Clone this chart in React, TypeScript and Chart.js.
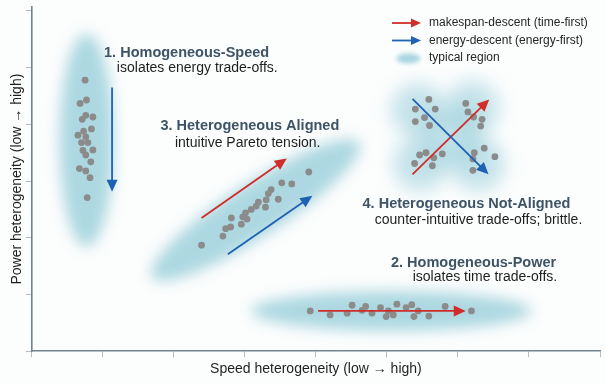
import React, { useEffect, useRef } from "react";
import { Chart, registerables } from "chart.js";

Chart.register(...registerables);

const FONT = "'Liberation Sans', 'DejaVu Sans', Arial, Helvetica, sans-serif";

// Axis ticks (unlabelled, concept axes)
const xTicks = [0, 1, 2, 3, 4, 5, 6, 7, 8];
const yTicks = [0, 1, 2, 3, 4, 5, 6];

// Scenario samples: [speed heterogeneity, power heterogeneity]
const homogeneousSpeed: [number, number][] = [
  [0.75, 4.78], [0.68, 4.37], [0.77, 4.43], [0.76, 4.16], [0.71, 4.09],
  [0.86, 4.13], [0.73, 3.88], [0.84, 3.92], [0.65, 3.81], [0.76, 3.78],
  [0.70, 3.68], [0.79, 3.68], [0.72, 3.54], [0.86, 3.55], [0.76, 3.46],
  [0.83, 3.34], [0.67, 3.22], [0.76, 3.18], [0.82, 3.06], [0.78, 2.71],
];

const homogeneousPower: [number, number][] = [
  [3.92, 0.71], [4.20, 0.64], [4.44, 0.67], [4.51, 0.81], [4.65, 0.72],
  [4.70, 0.79], [4.79, 0.67], [4.91, 0.77], [5.02, 0.71], [4.99, 0.61],
  [5.09, 0.64], [5.14, 0.83], [5.27, 0.77], [5.35, 0.82], [5.38, 0.61],
  [5.44, 0.71], [5.59, 0.62], [5.82, 0.79], [6.19, 0.71],
];

const heterogeneousAligned: [number, number][] = [
  [2.39, 1.87], [2.69, 2.03], [2.73, 2.16], [2.80, 2.19], [2.81, 2.35],
  [2.95, 2.24], [2.97, 2.37], [3.01, 2.44], [3.03, 2.33], [3.09, 2.50],
  [3.16, 2.56], [3.19, 2.63], [3.29, 2.54], [3.30, 2.67], [3.33, 2.78],
  [3.37, 2.85], [3.47, 2.68], [3.52, 2.97], [3.66, 2.95], [3.90, 3.16],
];

const heterogeneousNotAligned: [number, number][] = [
  [5.59, 4.44], [5.40, 4.27], [5.68, 4.27], [5.53, 4.12], [5.40, 4.05],
  [5.60, 3.98], [6.11, 4.37], [6.14, 4.22], [6.22, 4.13], [6.34, 4.09],
  [6.32, 3.97], [5.46, 3.46], [5.55, 3.50], [5.66, 3.41], [5.78, 3.48],
  [5.39, 3.31], [5.64, 3.27], [6.23, 3.50], [6.37, 3.58], [6.52, 3.43],
  [6.21, 3.39], [6.21, 3.19],
];

// Descent directions: [x from, y from, x to, y to]
const makespanDescent: [number, number, number, number][] = [
  [2.39, 2.35, 3.59, 3.40],
  [5.36, 3.12, 6.44, 4.44],
  [4.03, 0.71, 6.11, 0.71],
];
const energyDescent: [number, number, number, number][] = [
  [1.13, 4.65, 1.13, 2.81],
  [2.76, 1.71, 3.95, 2.74],
  [5.36, 4.45, 6.43, 3.12],
];

// Typical regions: [centre x, centre y, radius along x units, radius along y units, tilt in degrees]
const typicalRegions: [number, number, number, number, number][] = [
  [0.77, 3.72, 0.38, 1.88, 0],
  [3.15, 2.49, 1.74, 0.47, -33],
  [5.06, 0.71, 1.97, 0.35, 0],
];
// Four-lobed region of the not-aligned case
const notAlignedLobes: [number, number, number, number][] = [
  [5.44, 4.25, 0.38, 0.48],
  [6.20, 4.29, 0.38, 0.48],
  [5.47, 3.30, 0.38, 0.48],
  [6.28, 3.30, 0.38, 0.48],
  [5.89, 3.78, 0.44, 0.55],
];

const caseTitles = [
  "1. Homogeneous-Speed",
  "3. Heterogeneous Aligned",
  "4. Heterogeneous Not-Aligned",
  "2. Homogeneous-Power",
];
const caseNotes = [
  "isolates energy trade-offs.",
  "intuitive Pareto tension.",
  "counter-intuitive trade-offs; brittle.",
  "isolates time trade-offs.",
];
const legendLabels = [
  "makespan-descent (time-first)",
  "energy-descent (energy-first)",
  "typical region",
];
const xTitle = "Speed heterogeneity (low \u2192 high)";
const yTitle = "Power heterogeneity (low \u2192 high)";

// Label anchors in axis units (text centre)
const titleAnchors: [number, number][] = [
  [2.18, 5.25], [3.07, 3.97], [6.12, 2.59], [6.22, 1.56],
];
const noteAnchors: [number, number][] = [
  [2.33, 4.99], [3.04, 3.67], [6.29, 2.31], [6.38, 1.30],
];

const RED = "#cf2d29";
const BLUE = "#1f62b4";
const REGION = "rgba(152, 206, 218, 0.8)";

function drawArrow(
  ctx: CanvasRenderingContext2D,
  x1: number, y1: number, x2: number, y2: number,
  color: string, width: number, headLen: number, headHalf: number
) {
  const a = Math.atan2(y2 - y1, x2 - x1);
  const c = Math.cos(a), s = Math.sin(a);
  const bx = x2 - headLen * c, by = y2 - headLen * s;
  ctx.save();
  ctx.strokeStyle = color;
  ctx.fillStyle = color;
  ctx.lineWidth = width;
  ctx.lineCap = "butt";
  ctx.beginPath();
  ctx.moveTo(x1, y1);
  ctx.lineTo(bx + c, by + s);
  ctx.stroke();
  ctx.beginPath();
  ctx.moveTo(x2, y2);
  ctx.lineTo(bx - headHalf * s, by + headHalf * c);
  ctx.lineTo(bx + headHalf * s, by - headHalf * c);
  ctx.closePath();
  ctx.fill();
  ctx.restore();
}

const sketchPlugin = {
  id: "conceptSketch",
  beforeDraw(chart: any) {
    const ctx = chart.ctx as CanvasRenderingContext2D;
    ctx.save();
    ctx.fillStyle = "#fcfdfd";
    ctx.fillRect(0, 0, chart.width, chart.height);
    ctx.restore();
  },
  beforeDatasetsDraw(chart: any) {
    const ctx = chart.ctx as CanvasRenderingContext2D;
    const xs = chart.scales.x, ys = chart.scales.y;
    const ppx = Math.abs(xs.getPixelForValue(1) - xs.getPixelForValue(0));
    const ppy = Math.abs(ys.getPixelForValue(1) - ys.getPixelForValue(0));
    ctx.save();
    ctx.filter = "blur(7px)";
    ctx.fillStyle = REGION;
    for (const [cx, cy, rx, ry, tilt] of typicalRegions) {
      const px = xs.getPixelForValue(cx), py = ys.getPixelForValue(cy);
      ctx.beginPath();
      ctx.ellipse(px, py, rx * ppx, ry * ppy, (tilt * Math.PI) / 180, 0, Math.PI * 2);
      ctx.fill();
    }
    ctx.filter = "blur(9px)";
    ctx.fillStyle = "rgba(152, 206, 218, 0.55)";
    for (const [cx, cy, rx, ry] of notAlignedLobes) {
      const px = xs.getPixelForValue(cx), py = ys.getPixelForValue(cy);
      ctx.beginPath();
      ctx.ellipse(px, py, rx * ppx, ry * ppy, 0, 0, Math.PI * 2);
      ctx.fill();
    }
    ctx.restore();
  },
  afterDatasetsDraw(chart: any) {
    const ctx = chart.ctx as CanvasRenderingContext2D;
    const xs = chart.scales.x, ys = chart.scales.y;
    for (const [a, b, c, d] of makespanDescent) {
      drawArrow(ctx, xs.getPixelForValue(a), ys.getPixelForValue(b),
        xs.getPixelForValue(c), ys.getPixelForValue(d), RED, 1.8, 12, 5.5);
    }
    for (const [a, b, c, d] of energyDescent) {
      drawArrow(ctx, xs.getPixelForValue(a), ys.getPixelForValue(b),
        xs.getPixelForValue(c), ys.getPixelForValue(d), BLUE, 1.8, 12, 5.5);
    }

    ctx.save();
    ctx.textAlign = "center";
    ctx.textBaseline = "middle";
    caseTitles.forEach((t, i) => {
      ctx.font = `bold 14.5px ${FONT}`;
      ctx.fillStyle = "#3e5466";
      ctx.fillText(t, xs.getPixelForValue(titleAnchors[i][0]), ys.getPixelForValue(titleAnchors[i][1]));
      ctx.font = `14px ${FONT}`;
      ctx.fillStyle = "#1e1e1e";
      ctx.fillText(caseNotes[i], xs.getPixelForValue(noteAnchors[i][0]), ys.getPixelForValue(noteAnchors[i][1]));
    });
    ctx.restore();

    // Legend, top right of the plot
    const area = chart.chartArea;
    const lx = area.right - 208;
    const ly = area.top + 16;
    const gap = 17.5;
    drawArrow(ctx, lx, ly, lx + 29, ly, RED, 1.8, 10, 4.5);
    drawArrow(ctx, lx, ly + gap, lx + 29, ly + gap, BLUE, 1.8, 10, 4.5);
    ctx.save();
    ctx.filter = "blur(2px)";
    ctx.fillStyle = "rgba(152, 206, 218, 0.85)";
    ctx.beginPath();
    ctx.ellipse(lx + 16.5, ly + gap * 2 + 0.5, 12, 5, 0, 0, Math.PI * 2);
    ctx.fill();
    ctx.restore();
    ctx.save();
    ctx.font = `12px ${FONT}`;
    ctx.fillStyle = "#262626";
    ctx.textAlign = "left";
    ctx.textBaseline = "middle";
    legendLabels.forEach((t, i) => ctx.fillText(t, lx + 37, ly + gap * i));
    ctx.restore();
  },
};

function toPoints(list: [number, number][]) {
  return list.map(([x, y]) => ({ x, y }));
}

export default function App() {
  const canvasRef = useRef<HTMLCanvasElement | null>(null);

  useEffect(() => {
    const canvas = canvasRef.current;
    if (!canvas) return;
    const pointStyle = {
      pointRadius: 3.4,
      pointBackgroundColor: "#8b8b8b",
      pointBorderWidth: 0,
      pointHoverRadius: 3.4,
      showLine: false,
    };
    const chart = new Chart(canvas, {
      type: "scatter",
      data: {
        datasets: [
          { label: "Homogeneous-Speed", data: toPoints(homogeneousSpeed), ...pointStyle },
          { label: "Heterogeneous Aligned", data: toPoints(heterogeneousAligned), ...pointStyle },
          { label: "Heterogeneous Not-Aligned", data: toPoints(heterogeneousNotAligned), ...pointStyle },
          { label: "Homogeneous-Power", data: toPoints(homogeneousPower), ...pointStyle },
        ],
      },
      options: {
        responsive: false,
        animation: false,
        devicePixelRatio: 1,
        layout: { padding: { top: 7, right: 5, bottom: 2, left: 0 } },
        plugins: { legend: { display: false }, tooltip: { enabled: false } },
        scales: {
          x: {
            type: "linear",
            min: 0,
            max: 8,
            afterBuildTicks: (scale: any) => {
              scale.ticks = xTicks.map((v) => ({ value: v }));
            },
            ticks: { display: false },
            grid: { drawOnChartArea: false, drawTicks: true, tickLength: 6, color: "#b4bcc3", lineWidth: 1 },
            border: { display: true, color: "#72838f", width: 1.6 },
            title: {
              display: true,
              text: xTitle,
              color: "#1f1f1f",
              font: { family: FONT, size: 14 },
              padding: { top: 4, bottom: 4 },
            },
          },
          y: {
            type: "linear",
            min: 0,
            max: 6.07,
            afterBuildTicks: (scale: any) => {
              scale.ticks = yTicks.map((v) => ({ value: v }));
            },
            ticks: { display: false },
            grid: { drawOnChartArea: false, drawTicks: true, tickLength: 6, color: "#b4bcc3", lineWidth: 1 },
            border: { display: true, color: "#72838f", width: 1.6 },
            title: {
              display: true,
              text: yTitle,
              color: "#1f1f1f",
              font: { family: FONT, size: 14 },
              padding: { top: 9, bottom: 0 },
            },
          },
        },
      },
      plugins: [sketchPlugin],
    });
    return () => chart.destroy();
  }, []);

  return (
    <div style={{ position: "absolute", left: 0, top: 0, width: 605, height: 384 }}>
      <canvas ref={canvasRef} width={605} height={384} style={{ display: "block" }} />
    </div>
  );
}
